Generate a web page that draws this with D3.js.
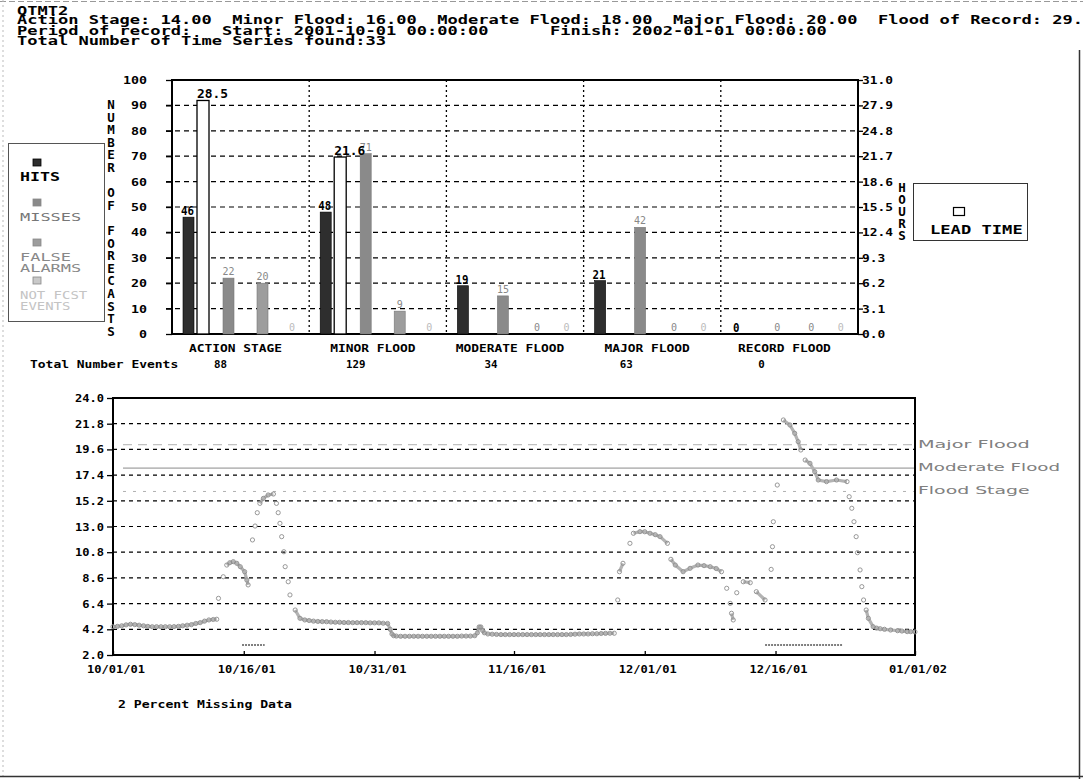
<!DOCTYPE html>
<html><head><meta charset="utf-8">
<script src="https://cdn.jsdelivr.net/npm/d3@7"></script>
<style>
html,body{margin:0;padding:0;background:#fff;}
svg{display:block;}
text{font-family:"DejaVu Sans Mono",monospace;}
</style></head><body>
<svg id="chart" width="1083" height="779"></svg>
<script>
// ---------- forecast verification counts ----------
const categories = ["ACTION STAGE", "MINOR FLOOD", "MODERATE FLOOD", "MAJOR FLOOD", "RECORD FLOOD"];
const hits        = [46, 48, 19, 21, 0];
const misses      = [22, 71, 15, 42, 0];
const falseAlarms = [20, 9, 0, 0, 0];
const notFcst     = [0, 0, 0, 0, 0];
const leadTimeHrs = [28.5, 21.6, null, null, null];
const totalEvents = [88, 129, 34, 63, 0];

const countTicks = [0, 10, 20, 30, 40, 50, 60, 70, 80, 90, 100];
const hourTicks  = [0.0, 3.1, 6.2, 9.3, 12.4, 15.5, 18.6, 21.7, 24.8, 27.9, 31.0];

// ---------- stage hydrograph ----------
const stageTicks = [2.0, 4.2, 6.4, 8.6, 10.8, 13.0, 15.2, 17.4, 19.6, 21.8, 24.0];
const dateTicks  = ["2001-10-01", "2001-10-16", "2001-10-31", "2001-11-16", "2001-12-01", "2001-12-16", "2002-01-01"];
const dateLabels = ["10/01/01", "10/16/01", "10/31/01", "11/16/01", "12/01/01", "12/16/01", "01/01/02"];
const floodNames  = ["Major Flood", "Moderate Flood", "Flood Stage"];
const floodLevels = [20.0, 18.0, 16.0];

// days since 2001-10-01 00:00 and observed stage (ft)
const stageDay = [
  0, 0.5, 1, 1.5, 2, 2.5, 3, 3.5, 4, 4.5, 5, 5.5, 6, 6.5, 7, 7.5, 8, 8.5, 9, 9.5, 10, 10.5, 11, 11.5, 11.9,
  12.1, 12.65, 13.05, 13.4, 13.8, 14.2, 14.6, 15.1, 15.35, 15.5,
  16.0, 16.3, 16.55, 16.85, 17.25, 17.8, 18.4, 18.75, 18.95, 19.15, 19.35, 19.6, 19.75, 20.1, 20.3, 20.9, 21.45,
  22, 22.5, 23, 23.5, 24, 24.5, 25, 25.5, 26, 26.5, 27, 27.5, 28, 28.5, 29, 29.5, 30, 30.5, 31, 31.5, 31.8, 32.0, 32.2,
  32.5, 33, 33.5, 34, 34.5, 35, 35.5, 36, 36.5, 37, 37.5, 38, 38.5, 39, 39.5, 40, 40.5, 41, 41.5,
  41.8, 42.0, 42.2, 42.4, 42.6, 43,
  43.5, 44, 44.5, 45, 45.5, 46, 46.5, 47, 47.5, 48, 48.5, 49, 49.5, 50, 50.5, 51, 51.5, 52, 52.5, 53, 53.5, 54, 54.5, 55, 55.5, 56, 56.5, 57, 57.5,
  57.9, 58.1, 58.5, 59.3, 59.7, 60.45, 61.0, 61.6, 62.2, 62.75, 63.6, 64.0, 64.5, 65.4, 66.2, 67.1, 67.8, 68.5, 69.2, 69.8,
  70.4, 70.8, 70.95, 71.15, 71.55, 72.3, 73.1, 73.8, 74.8,
  75.5, 75.65, 75.75, 76.2, 76.9, 77.65, 78.2, 78.6, 78.9, 79.4, 79.95, 80.5, 80.9, 81.85, 83.0, 84.2,
  84.45, 84.75, 85.0, 85.25, 85.4, 85.7, 85.9, 86.1, 86.4, 86.65, 87.2, 87.6, 88.0, 88.5, 89.2, 90.0, 90.5, 91.1, 91.5, 92.0
];
const stageFt = [
  4.42, 4.45, 4.50, 4.58, 4.63, 4.60, 4.55, 4.50, 4.45, 4.42, 4.42, 4.42, 4.42, 4.42, 4.43, 4.45, 4.50, 4.55, 4.60, 4.70, 4.77, 4.90, 5.00, 5.04, 5.06,
  6.85, 8.70, 9.70, 9.90, 9.99, 9.85, 9.56, 9.13, 8.42, 8.00,
  11.85, 13.04, 14.18, 14.98, 15.41, 15.70, 15.78, 14.98, 14.18, 13.27, 12.13, 10.84, 9.56, 8.27, 7.14, 5.85, 5.14,
  5.00, 4.95, 4.90, 4.87, 4.86, 4.85, 4.82, 4.80, 4.80, 4.78, 4.78, 4.77, 4.77, 4.77, 4.77, 4.75, 4.75, 4.75, 4.72, 4.70, 4.20, 3.80, 3.65,
  3.62, 3.60, 3.60, 3.60, 3.60, 3.60, 3.60, 3.60, 3.60, 3.60, 3.60, 3.60, 3.60, 3.60, 3.60, 3.62, 3.62, 3.62, 3.65,
  3.90, 4.40, 4.40, 4.10, 3.90, 3.80,
  3.78, 3.76, 3.75, 3.75, 3.75, 3.75, 3.75, 3.75, 3.75, 3.75, 3.75, 3.75, 3.75, 3.75, 3.75, 3.75, 3.75, 3.75, 3.76, 3.78, 3.80, 3.80, 3.80, 3.82, 3.82, 3.84, 3.85, 3.86, 3.86,
  6.71, 9.13, 9.85, 11.56, 12.42, 12.56, 12.55, 12.42, 12.30, 12.13, 11.56, 10.19, 9.70, 9.13, 9.42, 9.70, 9.65, 9.56, 9.40, 9.13,
  7.71, 6.42, 5.57, 5.00, 7.33, 8.27, 8.19, 7.42, 6.71,
  9.33, 11.27, 13.41, 16.55, 22.12, 21.69, 20.98, 20.26, 19.55, 18.69, 18.41, 17.69, 16.98, 16.84, 16.98, 16.84,
  15.55, 14.56, 13.41, 12.13, 10.76, 9.28, 7.85, 6.71, 5.85, 5.14, 4.42, 4.30, 4.25, 4.20, 4.14, 4.08, 4.05, 4.00, 4.00, 3.98
];
// short spans of forecast issuance marked along the bottom (days since start)
const forecastSpanStart = [14.8, 74.8];
const forecastSpanEnd   = [17.4, 83.7];
const spanLevel = 2.85;

// ---------- header text ----------
const headerLines = [
  "QTMT2",
  "Action Stage: 14.00  Minor Flood: 16.00  Moderate Flood: 18.00  Major Flood: 20.00  Flood of Record: 29.00",
  "Period of record:   Start: 2001-10-01 00:00:00      Finish: 2002-01-01 00:00:00",
  "Total Number of Time Series found:33"
];

// ================= drawing =================
const svg = d3.select("#chart");

// writes a pixel-font style label stretched to a fixed per-character width
function txt(g, x, y, s, o = {}) {
  const t = g.append("text")
    .attr("x", x).attr("y", y)
    .attr("font-size", o.size || 11)
    .attr("font-weight", o.bold === false ? "normal" : "bold")
    .attr("fill", o.fill || "#000")
    .attr("text-anchor", o.anchor || "start")
    .attr("xml:space", "preserve")
    .style("white-space", "pre")
    .text(s);
  if (o.cw) t.attr("textLength", s.length * o.cw).attr("lengthAdjust", "spacingAndGlyphs");
  if (o.family) t.style("font-family", o.family);
  return t;
}

// several lines in one text element, one tspan per line at explicit offsets
function block(g, x, ys, lines, o = {}) {
  const t = g.append("text")
    .attr("font-size", o.size || 11)
    .attr("font-weight", o.bold === false ? "normal" : "bold")
    .attr("fill", o.fill || "#000")
    .attr("text-anchor", o.anchor || "start")
    .attr("xml:space", "preserve")
    .style("white-space", "pre");
  lines.forEach((s, i) => {
    const ts = t.append("tspan").attr("x", x).attr("y", ys[i]).text(s);
    if (o.cw) ts.attr("textLength", s.length * o.cw).attr("lengthAdjust", "spacingAndGlyphs");
  });
  return t;
}

// page frame
svg.append("line").attr("x1", 0).attr("x2", 1083).attr("y1", 1.5).attr("y2", 1.5)
  .attr("stroke", "#999").attr("stroke-dasharray", "6,3");
svg.append("line").attr("x1", 3).attr("x2", 3).attr("y1", 0).attr("y2", 779)
  .attr("stroke", "#bbb").attr("stroke-dasharray", "2,3");
svg.append("line").attr("x1", 1079.5).attr("x2", 1079.5).attr("y1", 50).attr("y2", 779)
  .attr("stroke", "#333").attr("stroke-width", 1.5);
svg.append("line").attr("x1", 0).attr("x2", 1083).attr("y1", 776.5).attr("y2", 776.5)
  .attr("stroke", "#333").attr("stroke-width", 1.5);

// header
block(svg, 17, [15, 24, 35, 45], headerLines, { size: 12, cw: 10.25 });

// ---------- upper bar chart ----------
const barG = svg.append("g");
const X0 = 172, X1 = 858, YT = 80, YB = 334;
const group = d3.scaleBand().domain(categories).range([X0, X1]);
const yCount = d3.scaleLinear().domain([0, 100]).range([YB, YT]);
const yHours = d3.scaleLinear().domain([0, 31]).range([YB, YT]);
const seriesNames = ["hits", "misses", "falseAlarms", "notFcst"];
const slot = d3.scaleOrdinal().domain(seriesNames).range([16.5, 56.5, 90.5, 120]);
const barW = 11;

// grid
barG.selectAll(".hg").data(countTicks.filter(v => v > 0 && v < 100)).join("line")
  .attr("x1", X0 - 6).attr("x2", X1).attr("y1", d => yCount(d)).attr("y2", d => yCount(d))
  .attr("stroke", "#000").attr("stroke-width", 1.2).attr("stroke-dasharray", "5,4");
barG.selectAll(".vg").data(categories.slice(1)).join("line")
  .attr("x1", d => group(d)).attr("x2", d => group(d)).attr("y1", YT).attr("y2", YB)
  .attr("stroke", "#000").attr("stroke-width", 1.3).attr("stroke-dasharray", "2,3");

// left axis
const la = barG.append("g").attr("transform", `translate(${X0},0)`)
  .call(d3.axisLeft(yCount).tickValues(countTicks).tickSize(6).tickFormat(""));
la.select(".domain").remove();
la.selectAll("line").attr("stroke-width", 1.3);
countTicks.forEach(v => txt(barG, 147, yCount(v) + 4, String(v), { size: 11, cw: 8, anchor: "end" }));

// right axis
const ra = barG.append("g").attr("transform", `translate(${X1},0)`)
  .call(d3.axisRight(yHours).tickValues(hourTicks).tickSize(5).tickFormat(""));
ra.select(".domain").remove();
ra.selectAll("line").attr("stroke-width", 1.3);
hourTicks.forEach(v => txt(barG, 862, yHours(v) + 4, v.toFixed(1), { size: 11, cw: 7.75 }));

// frame
barG.append("rect").attr("x", X0).attr("y", YT).attr("width", X1 - X0).attr("height", YB - YT)
  .attr("fill", "none").attr("stroke", "#000").attr("stroke-width", 2);

// axis titles (stacked letters)
const leftTitle = "NUMBER OF FORECASTS".split("");
block(barG, 111, leftTitle.map((c, i) => 109 + i * 12.6), leftTitle, { size: 12.5, anchor: "middle" });
const rightTitle = "HOURS".split("");
block(barG, 902, rightTitle.map((c, i) => 192 + i * 12), rightTitle, { size: 12.5, anchor: "middle" });

// bars
const fills = { hits: "#2e2e2e", misses: "#8a8a8a", falseAlarms: "#9d9d9d", notFcst: "#c9c9c9" };
const seriesVals = { hits, misses, falseAlarms, notFcst };
categories.forEach((cat, ci) => {
  const gx = group(cat);
  seriesNames.forEach(s => {
    const v = seriesVals[s][ci];
    const cx = gx + slot(s);
    if (v > 0) {
      barG.append("rect").attr("x", cx - barW / 2).attr("y", yCount(v))
        .attr("width", barW).attr("height", YB - yCount(v))
        .attr("fill", fills[s]).attr("stroke", s === "hits" ? "#000" : "#777").attr("stroke-width", 0.6);
    }
    if (s === "hits") {
      txt(barG, cx - 1, yCount(v) - 2, String(v), { size: 12, cw: 6.5, anchor: "middle" });
    } else {
      txt(barG, cx, yCount(v) - 3, String(v), { size: 10, bold: false, fill: s === "notFcst" ? "#bbb" : "#888", anchor: "middle" });
    }
  });
  const lt = leadTimeHrs[ci];
  if (lt != null) {
    const lx = gx + slot("hits") + barW / 2 + 3;
    barG.append("rect").attr("x", lx).attr("y", yHours(lt)).attr("width", 12).attr("height", YB - yHours(lt))
      .attr("fill", "#fff").attr("stroke", "#000").attr("stroke-width", 1.3);
    txt(barG, lx, yHours(lt) - 2, lt.toFixed(1), { size: 12, cw: 7.75 });
  }
  // category label and total events
  const cxm = gx + group.bandwidth() / 2 - 5;
  txt(barG, cxm, 352, cat, { size: 11, cw: 7.75, anchor: "middle" });
  txt(barG, gx + group.bandwidth() / 2 - 20 - ci * 2, 368, String(totalEvents[ci]), { size: 11, cw: 6.5, anchor: "middle" });
});
txt(barG, 30, 368, "Total Number Events", { size: 10.5, cw: 7.8 });

// left legend
const lg = svg.append("g");
lg.append("rect").attr("x", 8.5).attr("y", 143.5).attr("width", 96).attr("height", 178)
  .attr("fill", "#fff").attr("stroke", "#555");
const legendItems = [
  { key: "hits", lines: ["HITS"], color: "#000", bold: true, sy: 159, cw: 10 },
  { key: "misses", lines: ["MISSES"], color: "#777", bold: false, sy: 199, cw: 10.2 },
  { key: "falseAlarms", lines: ["FALSE", "ALARMS"], color: "#888", bold: false, sy: 239, cw: 10.2 },
  { key: "notFcst", lines: ["NOT FCST", "EVENTS"], color: "#c4c4c4", bold: false, sy: 277, cw: 8.4 }
];
legendItems.forEach(it => {
  lg.append("rect").attr("x", 33).attr("y", it.sy).attr("width", 8).attr("height", 7)
    .attr("fill", fills[it.key]).attr("stroke", it.key === "hits" ? "#000" : "#888").attr("stroke-width", 0.8);
  block(lg, 20, it.lines.map((l, j) => it.sy + 22 + j * 11), it.lines,
    { size: it.bold ? 13 : 11, bold: it.bold, fill: it.color, cw: it.cw });
});

// lead-time legend
const rl = svg.append("g");
rl.append("rect").attr("x", 913.5).attr("y", 183.5).attr("width", 114).attr("height", 57)
  .attr("fill", "#fff").attr("stroke", "#333");
rl.append("rect").attr("x", 953.5).attr("y", 207.5).attr("width", 11).attr("height", 8)
  .attr("fill", "#fff").attr("stroke", "#000").attr("stroke-width", 1.2);
txt(rl, 930, 234, "LEAD TIME", { size: 12.5, cw: 10.3 });

// ---------- lower hydrograph ----------
const hydroG = svg.append("g");
const LX0 = 113, LX1 = 915, LYT = 398, LYB = 655;
const t0 = Date.UTC(2001, 9, 1);
const xTime = d3.scaleUtc().domain([new Date(t0), new Date(Date.UTC(2002, 0, 1))]).range([LX0, LX1]);
const yStage = d3.scaleLinear().domain([2, 24]).range([LYB, LYT]);
const dayDate = d => new Date(t0 + d * 864e5);

// horizontal grid
hydroG.selectAll(".sg").data(stageTicks.slice(1, -1)).join("line")
  .attr("x1", LX0).attr("x2", LX1).attr("y1", d => yStage(d)).attr("y2", d => yStage(d))
  .attr("stroke", "#000").attr("stroke-width", 1.2).attr("stroke-dasharray", "4,4");

// flood thresholds
const fStyle = [
  { stroke: "#b0b0b0", dash: "9,6", w: 1 },
  { stroke: "#8a8a8a", dash: null, w: 1 },
  { stroke: "#b0b0b0", dash: "3,7", w: 1 }
];
floodLevels.forEach((lv, i) => {
  hydroG.append("line").attr("x1", LX0 + 10).attr("x2", LX1).attr("y1", yStage(lv)).attr("y2", yStage(lv))
    .attr("stroke", fStyle[i].stroke).attr("stroke-width", fStyle[i].w)
    .attr("stroke-dasharray", fStyle[i].dash);
  txt(hydroG, 918, yStage(lv) + 3, floodNames[i],
    { size: 11, bold: false, fill: "#808080", cw: 10.15, family: "DejaVu Sans" });
});

// axes frame
hydroG.append("rect").attr("x", LX0).attr("y", LYT).attr("width", LX1 - LX0).attr("height", LYB - LYT)
  .attr("fill", "none").attr("stroke", "#000").attr("stroke-width", 2);
const sa = hydroG.append("g").attr("transform", `translate(${LX0},0)`)
  .call(d3.axisLeft(yStage).tickValues(stageTicks).tickSize(6).tickFormat(""));
sa.select(".domain").remove();
sa.selectAll("line").attr("stroke-width", 1.3);
stageTicks.forEach(v => txt(hydroG, 104, yStage(v) + 4, v.toFixed(1), { size: 11, cw: 7.25, anchor: "end" }));

const tickDates = dateTicks.map(s => new Date(s + "T00:00:00Z"));
const ta = hydroG.append("g").attr("transform", `translate(0,${LYB})`)
  .call(d3.axisBottom(xTime).tickValues(tickDates).tickSize(-4).tickFormat(""));
ta.select(".domain").remove();
ta.selectAll("line").attr("stroke-width", 1.3);
tickDates.forEach((d, i) => txt(hydroG, xTime(d) + 3, 673, dateLabels[i], { size: 11, cw: 7.25, anchor: "middle" }));

// stage trace: continuous runs as a band, every reading as a small circle
const pts = stageDay.map((d, i) => ({ d, v: stageFt[i] }));
const runs = [];
let cur = [pts[0]];
for (let i = 1; i < pts.length; i++) {
  const a = pts[i - 1], b = pts[i];
  if (b.d - a.d <= 1.3 && Math.abs(b.v - a.v) <= 0.75) cur.push(b);
  else { runs.push(cur); cur = [b]; }
}
runs.push(cur);
const line = d3.line().x(p => xTime(dayDate(p.d))).y(p => yStage(p.v));
hydroG.selectAll(".run").data(runs.filter(r => r.length > 1)).join("path")
  .attr("d", line).attr("fill", "none").attr("stroke", "#b3b3b3").attr("stroke-width", 3.2);
hydroG.selectAll(".obs").data(pts).join("circle")
  .attr("cx", p => xTime(dayDate(p.d))).attr("cy", p => yStage(p.v)).attr("r", 2.1)
  .attr("fill", "none").attr("stroke", "#8d8d8d").attr("stroke-width", 0.9);

// forecast spans
forecastSpanStart.forEach((s, i) => {
  hydroG.append("line").attr("x1", xTime(dayDate(s))).attr("x2", xTime(dayDate(forecastSpanEnd[i])))
    .attr("y1", yStage(spanLevel)).attr("y2", yStage(spanLevel))
    .attr("stroke", "#555").attr("stroke-width", 1.6).attr("stroke-dasharray", "2,1");
});

txt(svg, 118, 708, "2 Percent Missing Data", { size: 10.5, cw: 7.9 });
</script>
</body></html>
